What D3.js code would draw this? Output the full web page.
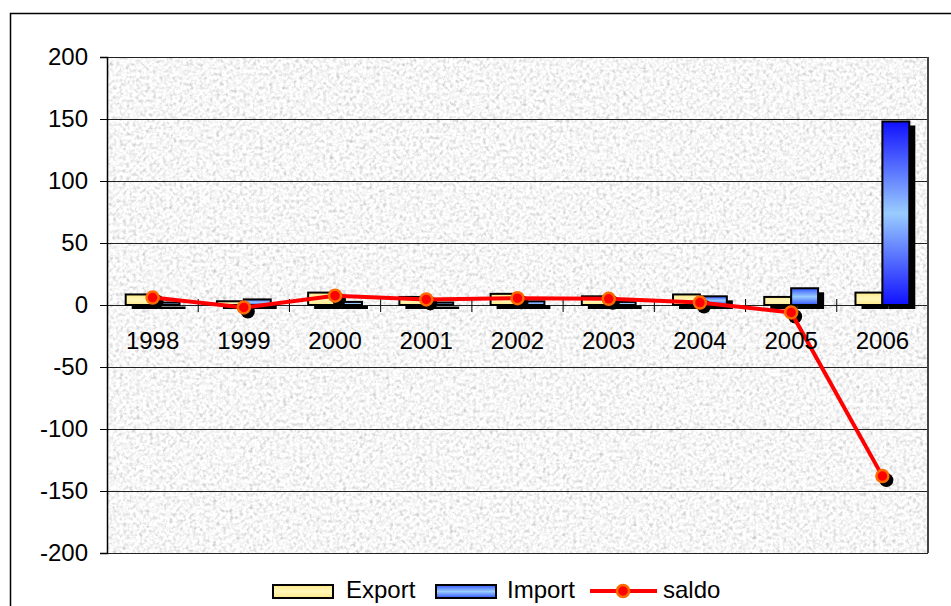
<!DOCTYPE html>
<html><head><meta charset="utf-8">
<script src="https://cdn.jsdelivr.net/npm/d3@7/dist/d3.min.js"></script>
<style>
html,body{margin:0;padding:0;background:#fff;}
svg{display:block;font-family:Arial,"Liberation Sans",sans-serif;}
</style></head>
<body>
<svg id="chart" width="951" height="606"></svg>
<script>
const years = ["1998","1999","2000","2001","2002","2003","2004","2005","2006"];
const exportVals = [8.5, 3, 10, 6.5, 9, 7, 8.5, 6.5, 10];
const importVals = [2, 4.5, 2.5, 2, 3, 2.5, 7, 13.5, 148];
const saldoVals  = [6, -2, 7.5, 4.5, 5.5, 5, 2, -6, -138];
const yTicks = [-200, -150, -100, -50, 0, 50, 100, 150, 200];
const seriesNames = ["Export", "Import", "saldo"];

const svg = d3.select("#chart");
const L = 107, R = 928, T = 57, B = 553;

const defs = svg.append("defs");
const f = defs.append("filter").attr("id","granite").attr("x",0).attr("y",0).attr("width",1).attr("height",1)
  .attr("color-interpolation-filters","sRGB");
f.append("feTurbulence").attr("type","fractalNoise").attr("baseFrequency",0.3).attr("numOctaves",2).attr("seed",7).attr("result","n");
f.append("feColorMatrix").attr("type","matrix")
  .attr("values","0.33 0.33 0.33 0 0  0.33 0.33 0.33 0 0  0.33 0.33 0.33 0 0  0 0 0 0 1").attr("result","g");
const ct = f.append("feComponentTransfer");
["feFuncR","feFuncG","feFuncB"].forEach(t => ct.append(t).attr("type","linear").attr("slope",0.7).attr("intercept",0.62));

const gImp = defs.append("linearGradient").attr("id","impGrad").attr("x1",0).attr("y1",0).attr("x2",0).attr("y2",1);
gImp.append("stop").attr("offset","0%").attr("stop-color","#1010ff");
gImp.append("stop").attr("offset","50%").attr("stop-color","#99ccff");
gImp.append("stop").attr("offset","100%").attr("stop-color","#1010ff");
const gImpL = defs.append("linearGradient").attr("id","impGradL").attr("x1",0).attr("y1",0).attr("x2",0).attr("y2",1);
gImpL.append("stop").attr("offset","0%").attr("stop-color","#3355ff");
gImpL.append("stop").attr("offset","50%").attr("stop-color","#99ccff");
gImpL.append("stop").attr("offset","100%").attr("stop-color","#3355ff");
const gExp = defs.append("linearGradient").attr("id","expGrad").attr("x1",0).attr("y1",0).attr("x2",0).attr("y2",1);
gExp.append("stop").attr("offset","0%").attr("stop-color","#ffe98a");
gExp.append("stop").attr("offset","50%").attr("stop-color","#fff7b8");
gExp.append("stop").attr("offset","100%").attr("stop-color","#ffe98a");

// outer border
svg.append("rect").attr("x",10.5).attr("y",13.5).attr("width",980).attr("height",700)
  .attr("fill","none").attr("stroke","#000").attr("stroke-width",1.5);

const x = d3.scaleBand().domain(years).range([L, R]).paddingInner(0).paddingOuter(0);
const y = d3.scaleLinear().domain([-200, 200]).range([B, T]);
const groupW = x.bandwidth() * 0.59;
const xs = d3.scaleBand().domain(["Export","Import"]).range([0, groupW]);
const gOff = (x.bandwidth() - groupW) / 2;

// plot background
svg.append("rect").attr("x",L).attr("y",T).attr("width",R-L).attr("height",B-T)
  .attr("fill","#ececec").attr("filter","url(#granite)");

// gridlines
svg.append("g").selectAll("line").data(yTicks).join("line")
  .attr("x1",L).attr("x2",R).attr("y1",d=>Math.round(y(d))+0.5).attr("y2",d=>Math.round(y(d))+0.5)
  .attr("stroke","#222").attr("stroke-width",1);

// right border of plot
svg.append("line").attr("x1",R).attr("x2",R).attr("y1",T).attr("y2",B).attr("stroke","#444").attr("stroke-width",2);

// y axis
const yAxis = d3.axisLeft(y).tickValues(yTicks).tickSize(7).tickPadding(12).tickFormat(d => String(d));
const ya = svg.append("g").attr("transform",`translate(${L},0)`).call(yAxis);
ya.select(".domain").attr("stroke","#000").attr("stroke-width",1.5);
ya.selectAll(".tick line").attr("stroke","#000");
ya.selectAll(".tick text").attr("font-size",24).attr("font-family","Arial, 'Liberation Sans', sans-serif").attr("fill","#000").attr("dy","0.3em");

// category ticks on the zero line
const bounds = years.slice(1).map(yr => x(yr));
svg.append("g").selectAll("line").data(bounds).join("line")
  .attr("x1",d=>d).attr("x2",d=>d).attr("y1",y(0)-6).attr("y2",y(0)+7).attr("stroke","#000");

// bars
const barData = [];
years.forEach((yr,i) => {
  barData.push({yr, s:"Export", v:exportVals[i]});
  barData.push({yr, s:"Import", v:importVals[i]});
});
const bx = d => x(d.yr) + gOff + xs(d.s);
const bw = xs.bandwidth();
svg.append("g").selectAll("rect").data(barData).join("rect")
  .attr("x",d=>bx(d)+6).attr("y",d=>y(Math.max(0,d.v))+4)
  .attr("width",bw).attr("height",d=>Math.abs(y(d.v)-y(0)))
  .attr("fill","#000");
svg.append("g").selectAll("rect").data(barData).join("rect")
  .attr("x",d=>bx(d)).attr("y",d=>y(Math.max(0,d.v)))
  .attr("width",bw).attr("height",d=>Math.abs(y(d.v)-y(0)))
  .attr("fill",d=>d.s==="Export" ? "url(#expGrad)" : (d.v>50 ? "url(#impGrad)" : "url(#impGradL)"))
  .attr("stroke","#000").attr("stroke-width",2);

// saldo line
const pts = years.map((yr,i)=>({x:x(yr)+x.bandwidth()/2, y:y(saldoVals[i])}));
svg.append("g").selectAll("circle").data(pts).join("circle")
  .attr("cx",d=>d.x+4).attr("cy",d=>d.y+4).attr("r",7).attr("fill","#000");
svg.append("path").datum(pts).attr("d",d3.line().x(d=>d.x).y(d=>d.y))
  .attr("fill","none").attr("stroke","#ff0000").attr("stroke-width",4);
svg.append("g").selectAll("circle").data(pts).join("circle")
  .attr("cx",d=>d.x).attr("cy",d=>d.y).attr("r",6).attr("fill","#ff0000").attr("stroke","#ff6a00").attr("stroke-width",2.5);

// category labels
svg.append("g").selectAll("text").data(years).join("text")
  .attr("x",d=>x(d)+x.bandwidth()/2).attr("y",349).attr("text-anchor","middle")
  .attr("font-size",24).text(d=>d);

// legend
const lg = svg.append("g");
lg.append("rect").attr("x",273).attr("y",585).attr("width",60).attr("height",13)
  .attr("fill","url(#expGrad)").attr("stroke","#000").attr("stroke-width",2);
lg.append("text").attr("x",346).attr("y",598).attr("font-size",24).text(seriesNames[0]);
lg.append("rect").attr("x",436).attr("y",585).attr("width",60).attr("height",13)
  .attr("fill","url(#impGradL)").attr("stroke","#000").attr("stroke-width",2);
lg.append("text").attr("x",507).attr("y",598).attr("font-size",24).text(seriesNames[1]);
lg.append("line").attr("x1",590).attr("x2",657).attr("y1",591).attr("y2",591).attr("stroke","#ff0000").attr("stroke-width",4);
lg.append("circle").attr("cx",623).attr("cy",591).attr("r",6).attr("fill","#ff0000").attr("stroke","#ff6a00").attr("stroke-width",2.5);
lg.append("text").attr("x",663).attr("y",598).attr("font-size",24).text(seriesNames[2]);
</script>
</body></html>
